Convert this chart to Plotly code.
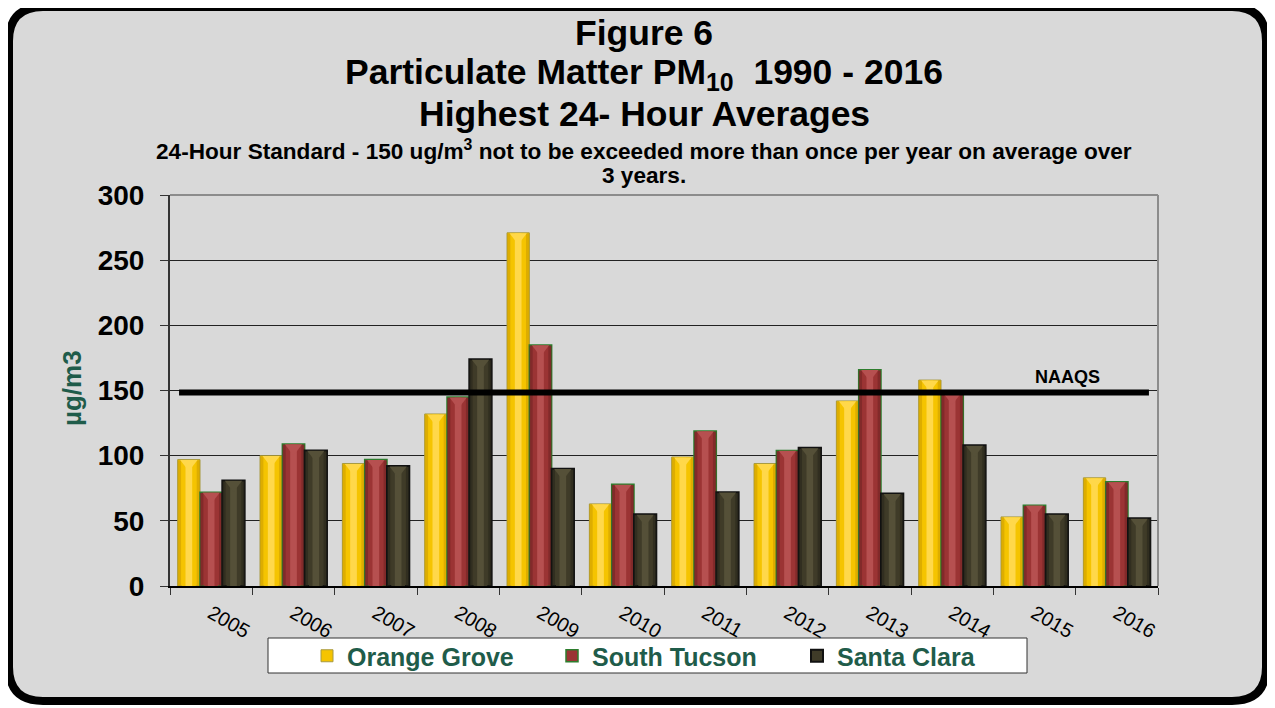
import plotly.graph_objects as go

# --- données ---
annees = ["2005", "2006", "2007", "2008", "2009", "2010",
          "2011", "2012", "2013", "2014", "2015", "2016"]
orange_grove = [97, 100, 94, 132, 271, 63, 99, 94, 142, 158, 53, 83]
south_tucson = [72, 109, 97, 145, 185, 78, 119, 104, 166, 148, 62, 80]
santa_clara = [81, 104, 92, 174, 90, 55, 72, 106, 71, 108, 55, 52]
naaqs = 148.5
y_ticks = [0, 50, 100, 150, 200, 250, 300]

FONT = "Liberation Sans, Arial, sans-serif"
VERT = "#1f5c4a"

# zone de tracé en pixels (repère de l'image de référence)
PL, PR, PT, PB = 170, 1158, 195, 586
MARGE_PAGE = 8  # marge du body html


def px(x):
    return (x - PL) / (PR - PL)


def py(y):
    return (PB - y) / (PB - PT)


x_num = list(range(len(annees)))
largeur = 0.271
series = [
    ("Orange Grove", orange_grove, "#c99a00", "#f5c400", "#ffd84a", "#a89a40", 1),
    ("South Tucson", south_tucson, "#6e2222", "#9b3434", "#b65050", "#2d7d2d", 1.5),
    ("Santa Clara", santa_clara, "#26241a", "#3f3b28", "#555038", "#111111", 2),
]

fig = go.Figure()

for i, (nom, valeurs, sombre, moyen, clair, contour, lw) in enumerate(series):
    gauche = -1.5 * largeur + i * largeur
    fig.add_trace(go.Bar(
        x=x_num, y=valeurs, name=nom, width=largeur, offset=gauche,
        marker=dict(color=moyen, line=dict(color=contour, width=lw)),
        showlegend=True, hoverinfo="x+y+name"
    ))
    # reflets pour imiter le biseau
    for frac, couleur in [(0.62, moyen), (0.3, clair)]:
        fig.add_trace(go.Bar(
            x=x_num, y=[v - 0.6 for v in valeurs], width=largeur * frac,
            offset=gauche + largeur * (1 - frac) / 2,
            marker=dict(color=couleur, line=dict(width=0)),
            showlegend=False, hoverinfo="skip"
        ))
    # bords sombres
    for frac_g in [0.0, 0.85]:
        fig.add_trace(go.Bar(
            x=x_num, y=[v - 0.6 for v in valeurs], width=largeur * 0.15,
            offset=gauche + largeur * frac_g,
            marker=dict(color=sombre, line=dict(width=0), opacity=0.55),
            showlegend=False, hoverinfo="skip"
        ))
    fig.add_trace(go.Scatter(
        x=[x + gauche + largeur / 2 for x in x_num], y=[v - 3.2 for v in valeurs],
        mode="markers",
        marker=dict(symbol="triangle-down", size=15, color=clair, line=dict(width=0)),
        showlegend=False, hoverinfo="skip"
    ))

# cadre arrondi
x0, x1, y0, y1, r = 9, 1266, 7, 701, 34
chemin = (
    f"M {px(x0 + r)},{py(y0)} L {px(x1 - r)},{py(y0)} "
    f"Q {px(x1)},{py(y0)} {px(x1)},{py(y0 + r)} L {px(x1)},{py(y1 - r)} "
    f"Q {px(x1)},{py(y1)} {px(x1 - r)},{py(y1)} L {px(x0 + r)},{py(y1)} "
    f"Q {px(x0)},{py(y1)} {px(x0)},{py(y1 - r)} L {px(x0)},{py(y0 + r)} "
    f"Q {px(x0)},{py(y0)} {px(x0 + r)},{py(y0)} Z"
)

shapes = [
    dict(type="path", path=chemin, xref="paper", yref="paper", layer="below",
         fillcolor="#d9d9d9", line=dict(color="black", width=8)),
    dict(type="line", xref="paper", yref="paper", x0=0, x1=1, y0=1, y1=1,
         line=dict(color="#8c8c8c", width=2)),
    dict(type="line", xref="paper", yref="paper", x0=1, x1=1, y0=0, y1=1,
         line=dict(color="#8c8c8c", width=2)),
    dict(type="line", xref="x", yref="y", x0=-0.39, x1=11.39, y0=naaqs, y1=naaqs,
         line=dict(color="black", width=6)),
    dict(type="rect", xref="paper", yref="paper", layer="below",
         x0=px(268), x1=px(1027), y0=py(673), y1=py(638),
         fillcolor="white", line=dict(color="#333333", width=1)),
]

annotations = [
    dict(text="<b>Figure 6</b>", x=px(644), y=py(33), size=35.5),
    dict(text="<b>Particulate Matter PM<sub>10</sub>  1990 - 2016</b>", x=px(644), y=py(74), size=35.5),
    dict(text="<b>Highest 24- Hour Averages</b>", x=px(644), y=py(114), size=35.5),
    dict(text="<b>24-Hour Standard - 150 ug/m<sup>3</sup> not to be exceeded more than once per year on average over</b>",
         x=px(644), y=py(150), size=22.6),
    dict(text="<b>3 years.</b>", x=px(644), y=py(176), size=22.6),
    dict(text="<b>NAAQS</b>", x=px(1067), y=py(377), size=18),
]
annotations = [
    dict(text=a["text"], x=a["x"], y=a["y"], xref="paper", yref="paper",
         xanchor="center", yanchor="middle", showarrow=False,
         font=dict(family=FONT, size=a["size"], color="black"))
    for a in annotations
]
annotations.append(dict(
    text="<b>µg/m3</b>", x=px(72), y=py(388), xref="paper", yref="paper",
    textangle=-90, showarrow=False, xanchor="center", yanchor="middle",
    font=dict(family=FONT, size=26, color=VERT)
))

fig.update_layout(
    width=1275 - MARGE_PAGE, height=708 - MARGE_PAGE,
    margin=dict(l=PL - MARGE_PAGE, r=1275 - PR, t=PT - MARGE_PAGE, b=708 - PB),
    paper_bgcolor="white",
    plot_bgcolor="#d9d9d9",
    barmode="overlay",
    font=dict(family=FONT, color="black"),
    shapes=shapes,
    annotations=annotations,
    legend=dict(
        orientation="h", x=px(307), y=py(656), xanchor="left", yanchor="middle",
        bgcolor="rgba(0,0,0,0)", entrywidth=200, entrywidthmode="pixels",
        font=dict(family=FONT, size=25, color=VERT, weight="bold"),
    ),
    xaxis=dict(
        range=[-0.5, 11.5], tickmode="array", tickvals=x_num, ticktext=annees,
        ticks="", tickangle=30, tickfont=dict(family=FONT, size=20, color="black"),
        ticklabelstandoff=6,
        showgrid=False, showline=True, linecolor="black", linewidth=2,
        zeroline=False,
        minor=dict(tickmode="array", tickvals=[i - 0.5 for i in range(13)],
                   ticks="outside", ticklen=7, tickcolor="#333333", tickwidth=1,
                   showgrid=False),
    ),
    yaxis=dict(
        range=[0, 300], tickmode="array", tickvals=y_ticks,
        ticks="outside", ticklen=8, tickcolor="#333333",
        tickfont=dict(family=FONT, size=28, color="black", weight="bold"),
        ticklabelstandoff=10,
        showgrid=True, gridcolor="#222222", gridwidth=1,
        showline=True, linecolor="#333333", linewidth=2, zeroline=False,
    ),
)

fig.write_html("out.html")
